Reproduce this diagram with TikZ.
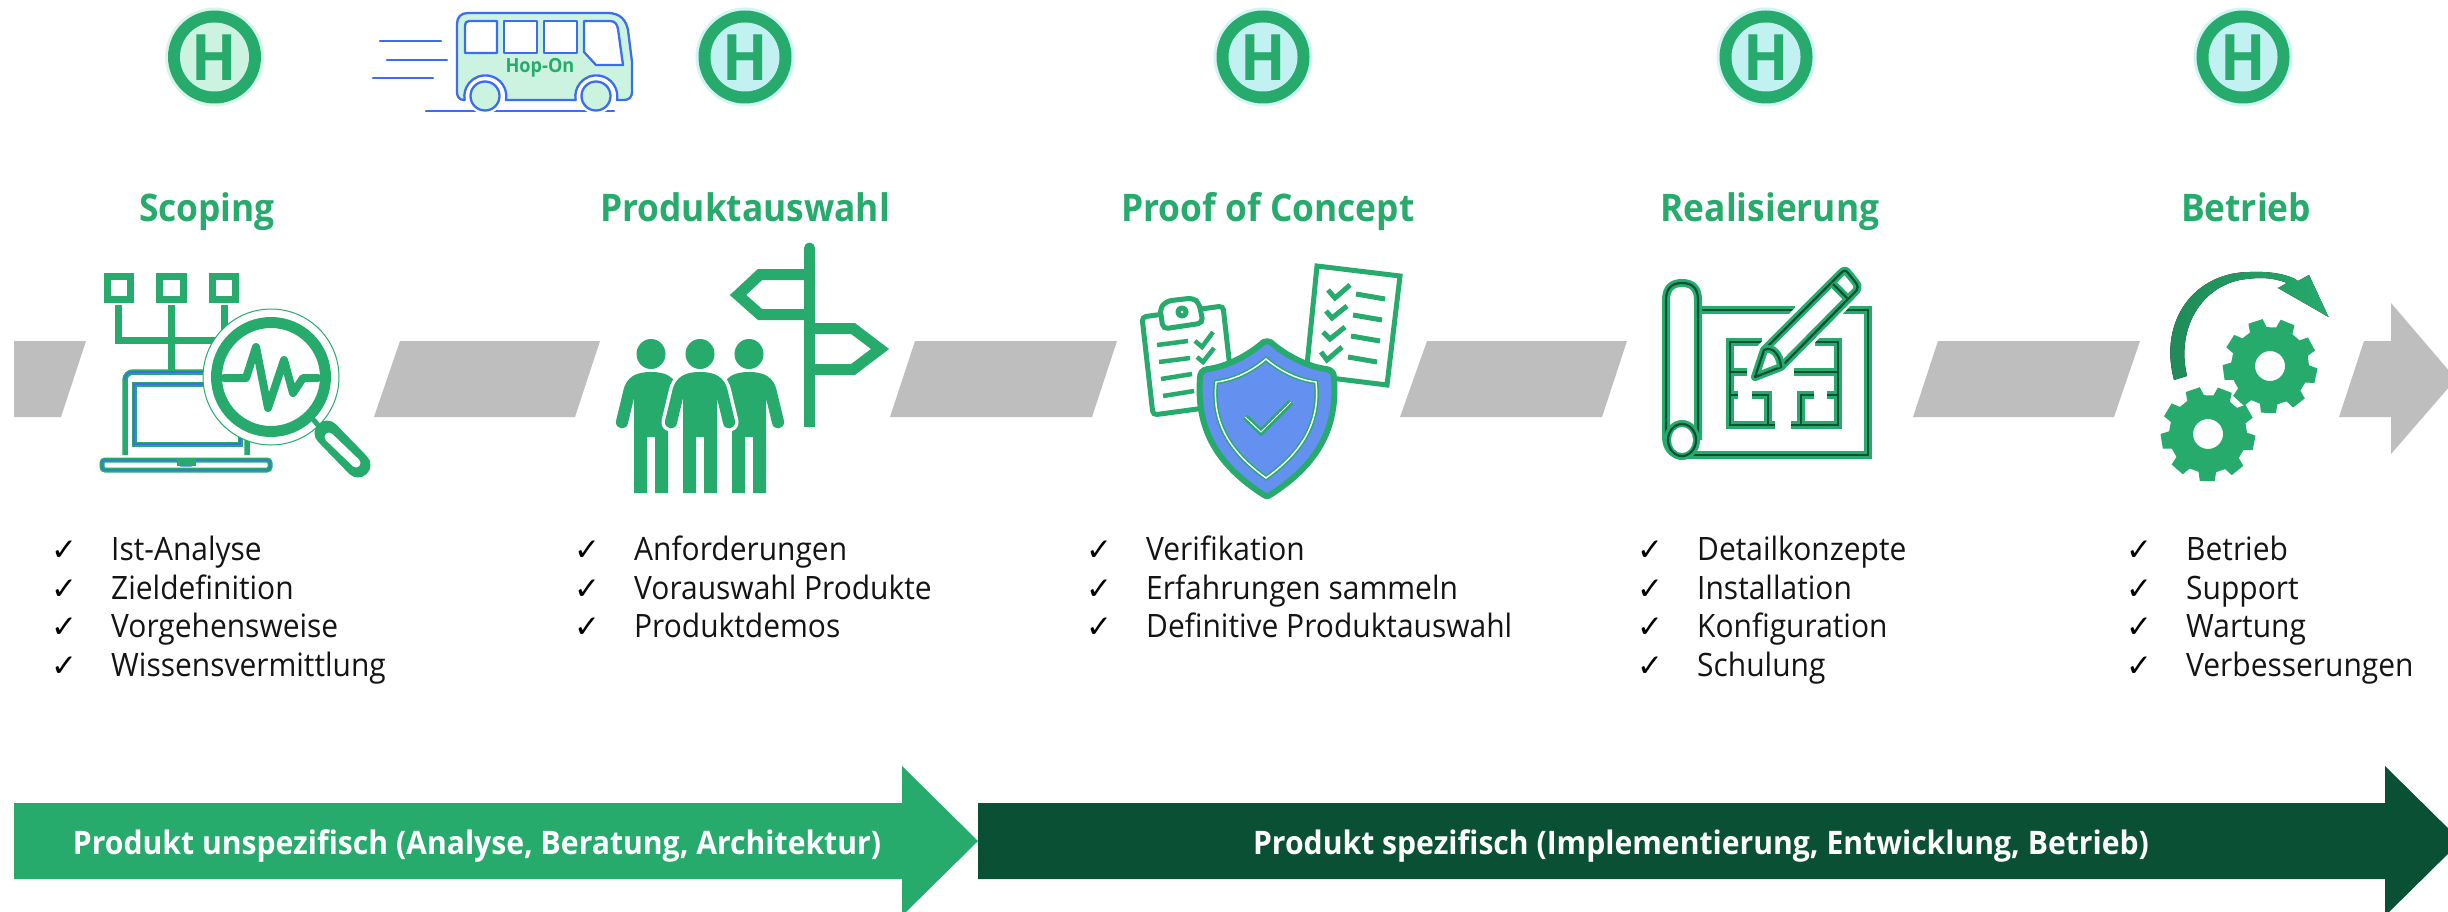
\documentclass[tikz,border=0pt]{standalone}
\usepackage{fontspec}
\setmainfont{Open Sans}[FakeStretch=0.93]
\newfontfamily\checkfont{DejaVu Sans}
\definecolor{gn}{HTML}{26AB6C}
\definecolor{dk}{HTML}{095035}
\definecolor{gy}{HTML}{BEBEBE}
\definecolor{bl}{HTML}{3C6DF0}
\definecolor{sh}{HTML}{6490F0}
\definecolor{mint}{HTML}{CBF3E0}
\definecolor{aqua}{HTML}{C2F1F2}
\tikzset{
  title/.style={font=\fontsize{38}{44}\selectfont\bfseries,text=gn,anchor=base},
  item/.style={font=\fontsize{32.2}{38}\selectfont,text=black!92,anchor=base west,inner sep=0pt},
  tick/.style={font=\checkfont\fontsize{31}{36}\selectfont,text=black,anchor=base,inner sep=0pt},
  band/.style={fill=gy,draw=none},
  gline/.style={draw=gn,line width=7pt,line join=miter},
  bluel/.style={draw=bl,line width=2.3pt,line cap=round,line join=round},
  plan/.style={draw=gn,line width=8pt,postaction={draw=dk,line width=2.2pt}},
  arrowtext/.style={font=\fontsize{32.4}{38}\selectfont\bfseries,text=white,anchor=center},
}
\newcommand{\haltestelle}[3]{%
  \fill[#2,opacity=.75] (#1,57) circle (49.5);
  \fill[gn] (#1,57) circle (46.5);
  \fill[#2] (#1,57) circle (34.5);
  \node[font=\fontsize{64}{64}\selectfont\bfseries,text=gn,inner sep=0pt] (#3) at (#1,57.5) {H};
}
\newcommand{\person}[1]{%
  \begin{scope}[shift={(#1,0)}]
    \fill[gn] (0,354) circle[x radius=14.5,y radius=15];
    \fill[gn] (0,372) .. controls (-14,372) and (-25,376) .. (-28,392)
      -- (-35,421) .. controls (-36,430) and (-24,431) .. (-23,423)
      -- (-17,398) -- (-17,493) -- (-4,493) -- (-4,437) -- (4,437) -- (4,493) -- (17,493) -- (17,398)
      -- (23,423) .. controls (24,431) and (36,430) .. (35,421)
      -- (28,392) .. controls (25,376) and (14,372) .. (0,372) -- cycle;
  \end{scope}}
\newcommand{\gearwheel}[3]{%
  \begin{scope}[shift={(#1,#2)}]
    \fill[gn,even odd rule] (#3-13:39)
      \foreach \t in {0,...,8} { -- (#3+\t*40-13:39) -- (#3+\t*40-9:47.5) -- (#3+\t*40+9:47.5) -- (#3+\t*40+13:39) }
      -- cycle (0,0) circle[x radius=15,y radius=15];
  \end{scope}}
\newcommand{\bullets}[2]{%
  \foreach \txt [count=\n from 0] in {#2} {
    \pgfmathsetmacro{\yy}{560.5+\n*38.7}
    \node[tick] (t#1-\n) at (#1-47,\yy) {✓};
    \node[item] (i#1-\n) at (#1,\yy) {\txt};
  }}
\begin{document}
\begin{tikzpicture}[x=1pt,y=-1pt]
\clip (0,0) rectangle (2448,912);
\fill[white] (0,0) rectangle (2448,912);
% grey bands
\fill[band] (14,341) -- (86,341) -- (61,417) -- (14,417) -- cycle;
\fill[band] (400,341) -- (600,341) -- (575,417) -- (374,417) -- cycle;
\fill[band] (915,341) -- (1117,341) -- (1092,417) -- (890,417) -- cycle;
\fill[band] (1427,341) -- (1627,341) -- (1602,417) -- (1400,417) -- cycle;
\fill[band] (1938,341) -- (2140,341) -- (2114,417) -- (1913,417) -- cycle;
\fill[band] (2364,341) -- (2391,341) -- (2391,303) -- (2456,379) -- (2391,454) -- (2391,417) -- (2339,417) -- cycle;
% stops
\haltestelle{214.5}{mint}{h1}
\haltestelle{745}{aqua}{h2}
\haltestelle{1263}{aqua}{h3}
\haltestelle{1766}{aqua}{h4}
\haltestelle{2243}{aqua}{h5}
% bus
\draw[bluel] (380,41) -- (441,41) (387,60) -- (447,60) (373,78) -- (433,78) (426,110.7) -- (614,110.7);
\draw[bluel,fill=mint] (457,24) .. controls (457,17) and (461,13) .. (468,13) -- (608,13)
  .. controls (620,13) and (626,20) .. (628,30) -- (632,62) -- (632,92)
  .. controls (632,97) and (629,100) .. (624,100) -- (617,100)
  arc[start angle=10,end angle=-190,radius=21] -- (506,100)
  arc[start angle=10,end angle=-190,radius=21] -- (464,100)
  .. controls (459,100) and (457,96) .. (457,92) -- cycle;
\fill[white] (485,96) circle (18) (596,96) circle (18);
\draw[bluel,fill=mint] (485,96) circle (14.5) (596,96) circle (14.5);
\draw[bluel,fill=white] (465,26) .. controls (465,23) and (466,21) .. (469,21) -- (497,21) -- (497,53) -- (465,53) -- cycle;
\draw[bluel,fill=white] (504,21) rectangle (537,53);
\draw[bluel,fill=white] (544,21) rectangle (577,53);
\draw[bluel,fill=white] (584,21) -- (610,21) .. controls (615,21) and (617,24) .. (618,29) -- (623,65) -- (596,65) -- (584,52) -- cycle;
\node[font=\fontsize{19.5}{22}\selectfont\bfseries,text=gn,inner sep=0pt] (hop) at (540,68) {Hop-On};
% titles
\node[title] (t1) at (207,221) {Scoping};
\node[title] (t2) at (745,221) {Produktauswahl};
\node[title] (t3) at (1268,222) {Proof of Concept};
\node[title] (t4) at (1770,221) {Realisierung};
\node[title] (t5) at (2246,222) {Betrieb};
% icon 1
\draw[gline] (107,276) rectangle (130,299) (159,276) rectangle (183,299) (212,276) rectangle (235,299);
\draw[gline] (118,305) -- (118,340) -- (225,340) (171,305) -- (171,370) (224,305) -- (224,340);
\draw[gn,line width=5.5pt,rounded corners=8pt] (125,455) -- (125,372) -- (247,372) -- (247,455);
\draw[bl,line width=1.6pt,rounded corners=7pt] (125,380) -- (125,372) -- (240,372);
\draw[gn,line width=5pt] (134,384) rectangle (240,444);
\draw[bl,line width=1.6pt] (134,384) rectangle (240,444);
\draw[gn,line width=5pt,rounded corners=3pt] (102,460) -- (270,460) -- (270,470) -- (102,470) -- cycle;
\draw[bl,line width=1.2pt,rounded corners=3pt] (102,460) -- (178,460) -- (178,466) -- (194,466) -- (194,460) -- (270,460) -- (270,470) -- (102,470) -- cycle;
\fill[gn] (177,458) rectangle (196,466);
\fill[white] (271,377) circle (68);
\draw[gn,line width=1pt] (271,377) circle (68);
\draw[gn,line width=11pt] (271,377) circle (54.5);
\draw[gn,line width=8pt,line join=round,line cap=round] (224,378) -- (246,378) -- (256,347) -- (268,408) -- (284,360) -- (293,393) -- (303,378) -- (318,378);
\draw[gn,line width=25pt,line cap=round] (327,433) -- (358,465);
\draw[white,line width=9pt,line cap=round] (329,437) -- (356,463);
\draw[gn,line width=5pt] (312,418) -- (322,430);
% icon 2
\person{651}\person{749}
\draw[white,line width=7pt,line join=round] (700,372) .. controls (686,372) and (675,376) .. (672,392) -- (665,421) .. controls (664,430) and (676,431) .. (677,423) -- (683,398) -- (683,493)
  (717,493) -- (717,398) -- (723,423) .. controls (724,431) and (736,430) .. (735,421) -- (728,392) .. controls (725,376) and (714,372) .. (700,372);
\person{700}
\draw[gn,line width=11pt,line join=miter] (804,274.5) -- (760,274.5) -- (738,295) -- (760,314.5) -- (804,314.5);
\draw[gn,line width=11pt,line join=miter] (815,328.5) -- (853,328.5) -- (880,349) -- (853,369.5) -- (815,369.5);
\draw[gn,line width=11pt,line cap=round] (809.5,248) -- (809.5,422);
\fill[gn] (804,420) rectangle (815,427);
% icon 3
\draw[gn,line width=5pt,rounded corners=4pt,fill=white] (1142,317) -- (1223,306) -- (1234,404) -- (1153,415) -- cycle;
\draw[gn,line width=5pt,rounded corners=5pt,fill=white] (1163,329) -- (1160,308) -- (1167,301) -- (1193,298) -- (1199,303) -- (1203,323) -- cycle;
\fill[gn] (1182,312) circle (6.5);
\fill[white] (1182,312) circle (1.5);
\draw[gn,line width=4.5pt] (1157,345) -- (1188,341) (1159,362) -- (1190,358) (1161,379) -- (1192,374) (1163,396) -- (1194,391);
\draw[gn,line width=4.5pt] (1195,341) -- (1202,347) -- (1213,332) (1197,357) -- (1203,362) -- (1214,348);
\draw[gn,line width=5pt,fill=white] (1317,266) -- (1400,276) -- (1387,385) -- (1306,375) -- cycle;
\draw[gn,line width=5pt] (1328,290) -- (1335,298) -- (1350,285) (1326,311) -- (1332,318) -- (1347,306) (1323,332) -- (1330,339) -- (1345,327) (1321,352) -- (1327,360) -- (1342,347);
\draw[gn,line width=5pt] (1356,294) -- (1385,299) (1353,315) -- (1382,320) (1351,336) -- (1380,341) (1348,357) -- (1377,362);
\draw[gn,line width=6pt,fill=sh,line join=round] (1260,345) .. controls (1264,340) and (1270,340) .. (1274,345) .. controls (1290,358) and (1310,367) .. (1326,369) .. controls (1332,370) and (1334,373) .. (1334,378) .. controls (1337,420) and (1325,460) .. (1270,495) .. controls (1268,497) and (1266,497) .. (1264,495) .. controls (1209,460) and (1197,420) .. (1200,378) .. controls (1200,373) and (1202,370) .. (1208,369) .. controls (1224,367) and (1244,358) .. (1260,345) -- cycle;
\draw[gn,line width=4.5pt] (1266,359) .. controls (1280,371) and (1298,380) .. (1316,382) .. controls (1320,420) and (1305,450) .. (1266,478)
  .. controls (1227,450) and (1212,420) .. (1216,382) .. controls (1234,380) and (1252,371) .. (1266,359) -- cycle;
\draw[white,line width=1.5pt] (1266,359) .. controls (1280,371) and (1298,380) .. (1316,382) .. controls (1320,420) and (1305,450) .. (1266,478)
  .. controls (1227,450) and (1212,420) .. (1216,382) .. controls (1234,380) and (1252,371) .. (1266,359) -- cycle;
\draw[gn,line width=6pt] (1245,417) -- (1261,432) -- (1291,402);
\draw[white,line width=1pt] (1245,417) -- (1261,432) -- (1291,402);
% icon 4
\draw[plan,line join=miter] (1702,310) -- (1795,310) (1843,310) -- (1868,310) -- (1868,455) -- (1685,455);
\draw[plan] (1682,455) .. controls (1672,455) and (1666,448) .. (1666,436) -- (1666,300) .. controls (1666,288) and (1672,283) .. (1682,283) .. controls (1692,283) and (1698,288) .. (1698,300) -- (1698,440);
\draw[plan] (1682,440) circle[x radius=14,y radius=16];
\fill[white] (1682,440) circle[x radius=11,y radius=13];
\draw[plan] (1762,342) -- (1730,342) -- (1730,425) -- (1775,425) (1730,372) -- (1747,372) (1730,395) -- (1738,395) (1752,395) -- (1768,395) -- (1768,425);
\draw[plan] (1815,342) -- (1838,342) -- (1838,425) -- (1791,425) (1838,372) -- (1794,372) (1838,395) -- (1827,395) (1814,395) -- (1801,395) -- (1801,425);
\draw[white,line width=15pt,line join=round] (1755,377) -- (1764,350) -- (1840,273) -- (1858,287) -- (1781,367) -- cycle;
\draw[plan,line join=round,fill=white] (1755,377) -- (1764,350) -- (1841,273) .. controls (1844,270) and (1846,270) .. (1848,273) -- (1856,283) .. controls (1858,286) and (1858,288) .. (1856,291) -- (1781,367) -- cycle;
\draw[plan] (1833,284) -- (1847,298);
\draw[plan] (1764,350) .. controls (1772,346) and (1780,354) .. (1781,367);
% icon 5
\gearwheel{2270}{366}{12}
\gearwheel{2208}{434}{11}
\fill[left color=gn!80!black,right color=gn] (2174,380) .. controls (2158,320) and (2195,272) .. (2250,272)
  .. controls (2272,271) and (2290,275) .. (2298,281) -- (2309,275) -- (2328.5,317) -- (2278,288) -- (2287,283)
  .. controls (2272,277) and (2258,277) .. (2240,280) .. controls (2200,288) and (2176,330) .. (2187,376) -- cycle;
% lists
\bullets{111}{Ist-Analyse,Zieldefinition,Vorgehensweise,Wissensvermittlung}
\bullets{634}{Anforderungen,Vorauswahl Produkte,Produktdemos}
\bullets{1146}{Verifikation,Erfahrungen sammeln,Definitive Produktauswahl}
\bullets{1697}{Detailkonzepte,Installation,Konfiguration,Schulung}
\bullets{2186}{Betrieb,Support,Wartung,Verbesserungen}
% bottom arrows
\fill[gn] (14,803) -- (902,803) -- (902,766) -- (978,841) -- (902,916) -- (902,879) -- (14,879) -- cycle;
\fill[dk] (978,803) -- (2385,803) -- (2385,766) -- (2461,841) -- (2385,916) -- (2385,879) -- (978,879) -- cycle;
\node[arrowtext] (a1) at (477,846) {Produkt unspezifisch (Analyse, Beratung, Architektur)};
\node[arrowtext] (a2) at (1701,846) {Produkt spezifisch (Implementierung, Entwicklung, Betrieb)};
\end{tikzpicture}
\end{document}
